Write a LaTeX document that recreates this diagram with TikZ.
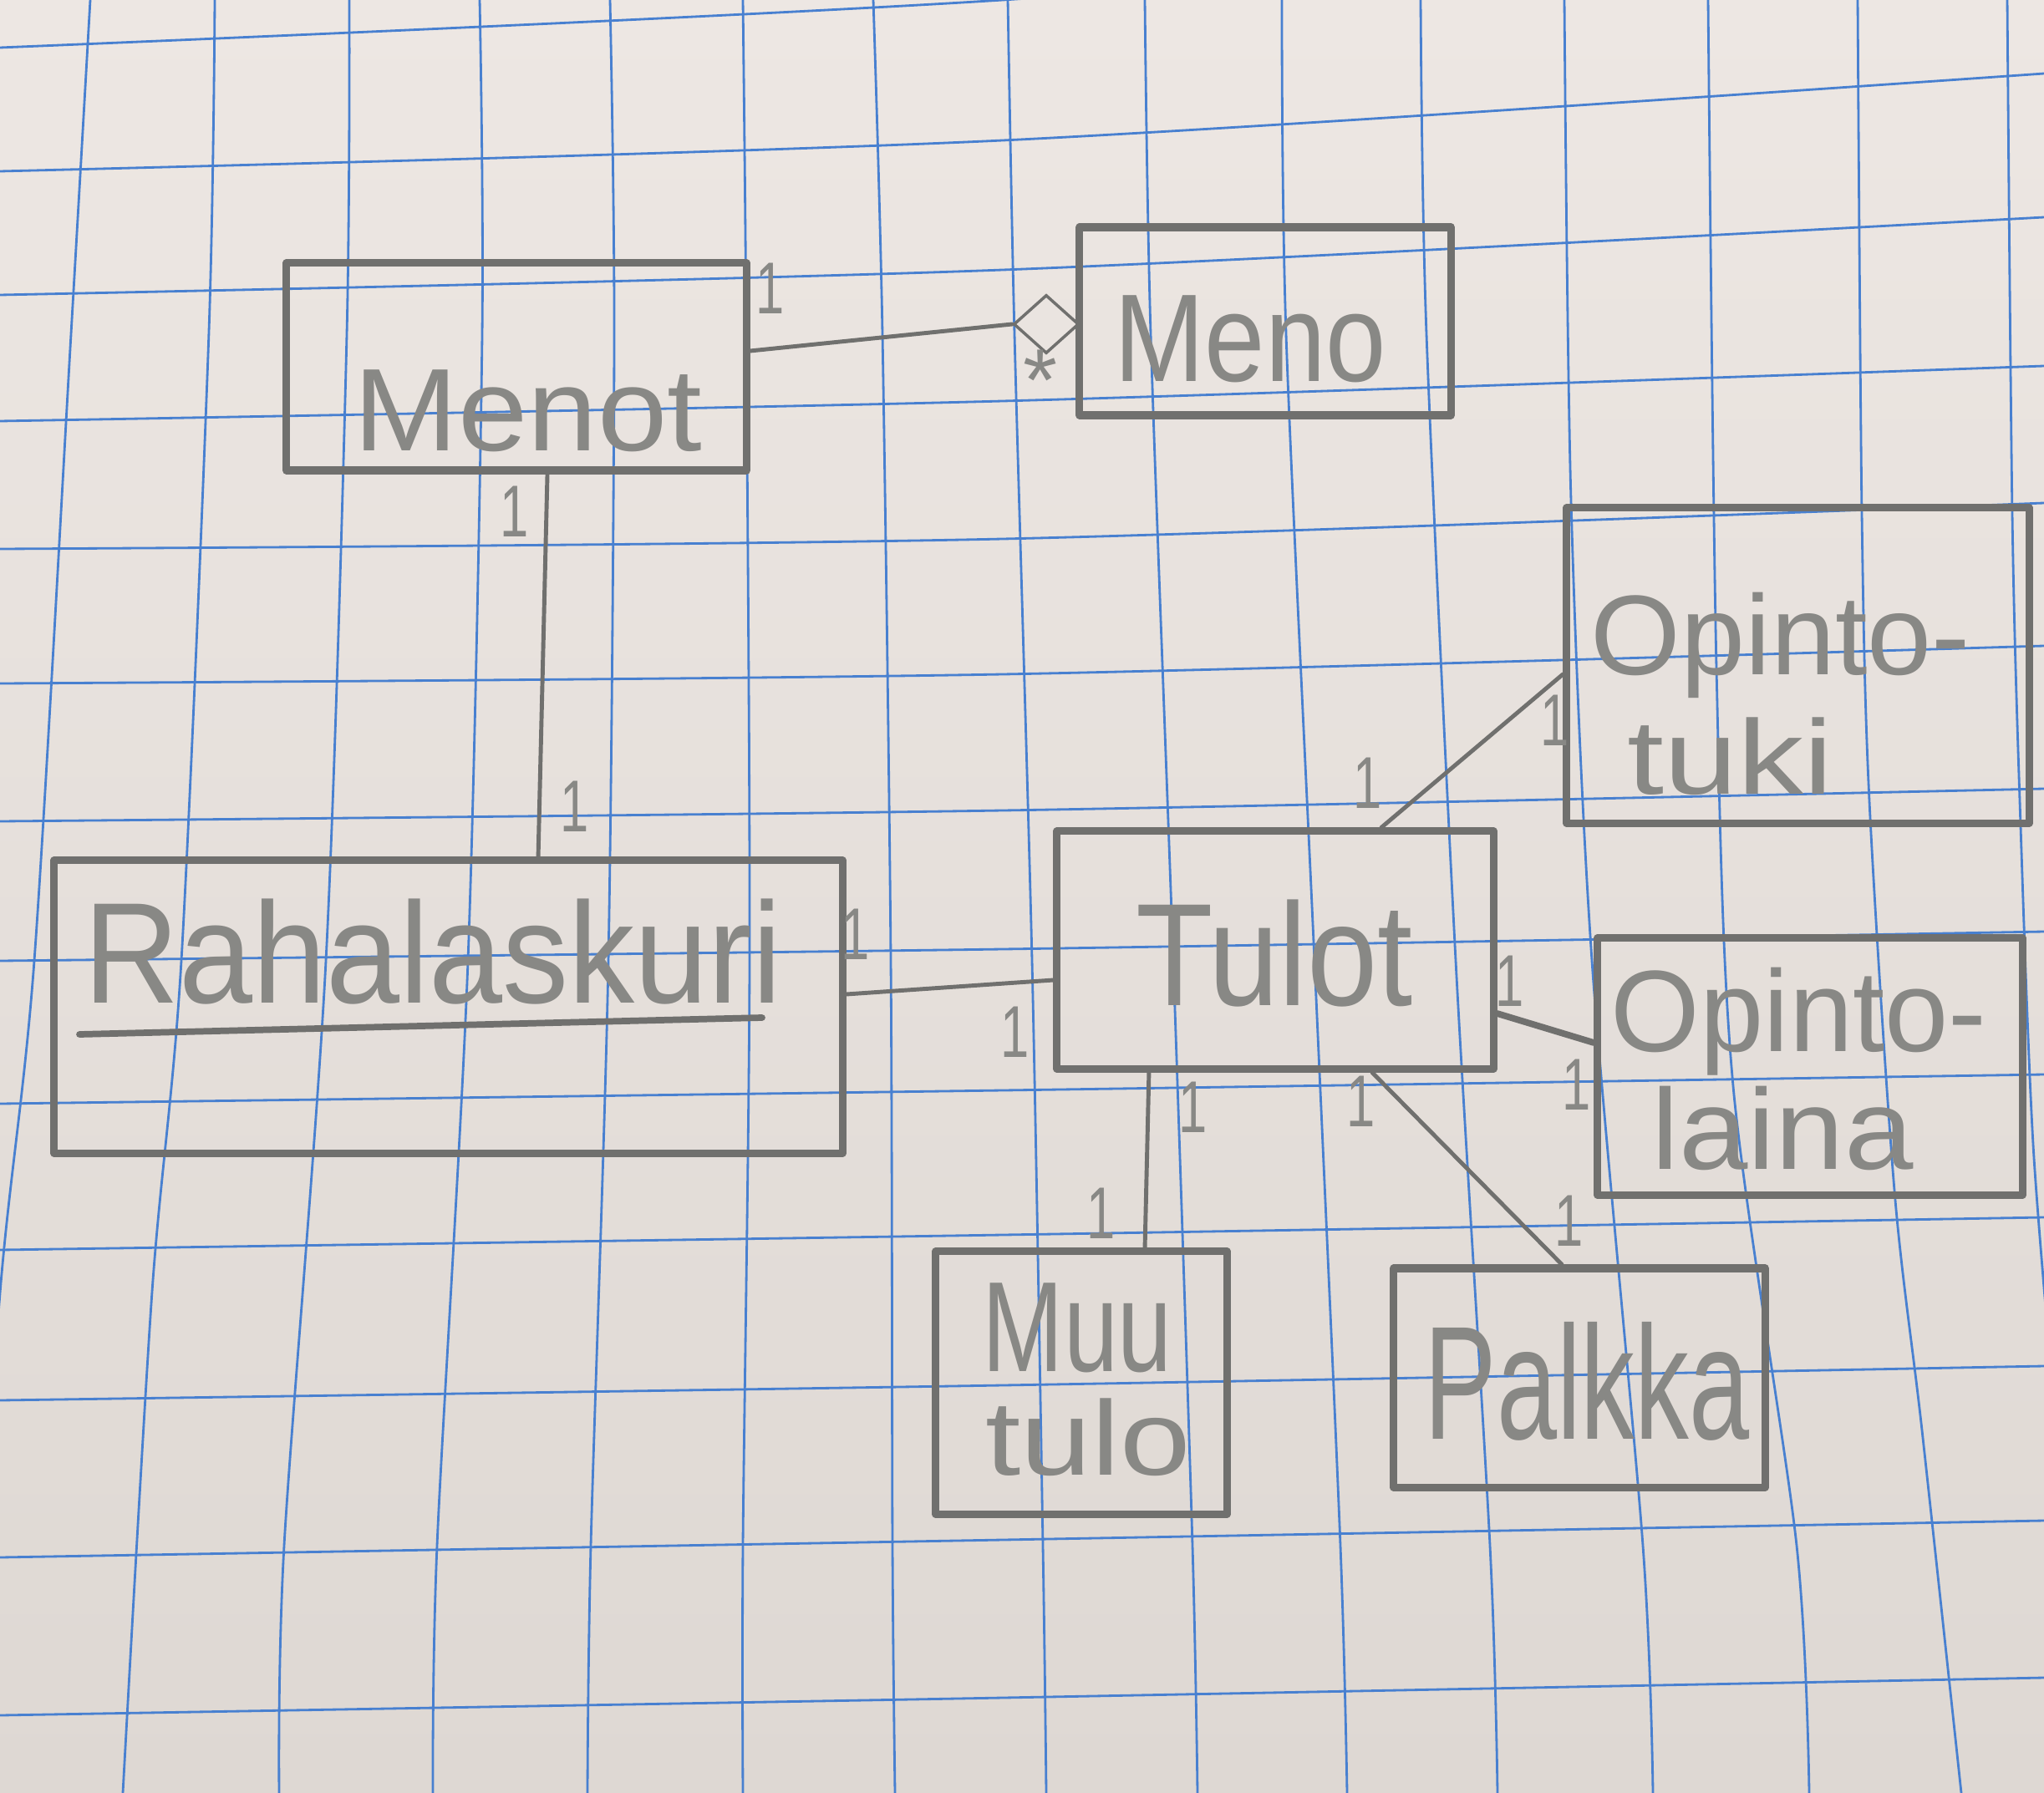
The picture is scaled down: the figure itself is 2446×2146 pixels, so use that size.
\documentclass[tikz,border=0pt]{standalone}
\usepackage{fontspec}
\setmainfont{Liberation Sans}
\usepackage{graphicx}
\usetikzlibrary{shapes.geometric}
\definecolor{paperA}{RGB}{237,231,227}
\definecolor{paperB}{RGB}{222,216,211}
\definecolor{gridblue}{RGB}{72,128,208}
\definecolor{pencil}{RGB}{112,112,110}
\definecolor{pencilText}{RGB}{136,136,133}
\newcommand\hw[3]{\fontsize{#1}{#1}\selectfont\scalebox{#2}[1]{#3}}
\begin{document}
\begin{tikzpicture}[x=0.01cm,y=-0.01cm,
  cls/.style={draw=pencil, line width=2.6pt, rectangle, inner sep=0pt, line join=round},
  assoc/.style={draw=pencil, line width=1.4pt, line cap=round},
  lbl/.style={inner sep=0pt, text=pencilText},
  mult/.style={inner sep=0pt, text=pencilText, font=\fontsize{25}{25}\selectfont},
  gridline/.style={draw=gridblue, line width=0.8pt}]
\useasboundingbox (0,0) rectangle (2446,2146);
\shade[top color=paperA, bottom color=paperB] (0,0) rectangle (2446,2146);
\begin{scope}
\clip (0,0) rectangle (2446,2146);
% vertical grid lines
\draw[gridline] plot[smooth] coordinates {(108,0) (85,400) (41,1150) (0,1548) (-40,2146)};
\draw[gridline] plot[smooth] coordinates {(257,0) (250,397) (217,1150) (182,1546) (147,2146)};
\draw[gridline] plot[smooth] coordinates {(418,0) (415,400) (390,1150) (340,1850) (334,2146)};
\draw[gridline] plot[smooth] coordinates {(574,0) (577,400) (560,1150) (523,1850) (518,2146)};
\draw[gridline] plot[smooth] coordinates {(730,0) (735,400) (728,1150) (707,1850) (703,2146)};
\draw[gridline] plot[smooth] coordinates {(889,0) (893,400) (897,1150) (889,1850) (889,2146)};
\draw[gridline] plot[smooth] coordinates {(1045,0) (1056,400) (1066,1150) (1068,1850) (1071,2146)};
\draw[gridline] plot[smooth] coordinates {(1206,0) (1214,400) (1235,1150) (1248,1850) (1252,2146)};
\draw[gridline] plot[smooth] coordinates {(1370,0) (1377,400) (1404,1150) (1427,1850) (1433,2146)};
\draw[gridline] plot[smooth] coordinates {(1534,0) (1539,400) (1573,1150) (1604,1850) (1612,2146)};
\draw[gridline] plot[smooth] coordinates {(1700,0) (1707,400) (1742,1150) (1783,1850) (1792,2146)};
\draw[gridline] plot[smooth] coordinates {(1872,0) (1880,600) (1905,1150) (1966,1850) (1978,2146)};
\draw[gridline] plot[smooth] coordinates {(2044,0) (2054,800) (2074,1300) (2150,1850) (2165,2146)};
\draw[gridline] plot[smooth] coordinates {(2223,0) (2228,616) (2237,959) (2267,1425) (2300,1712) (2347,2146)};
\draw[gridline] plot[smooth] coordinates {(2402,0) (2408,616) (2417,959) (2433,1370) (2460,1700)};
% horizontal grid lines
\draw[gridline] plot[smooth] coordinates {(0,57) (1200,0) (2446,-100)};
\draw[gridline] plot[smooth] coordinates {(0,205) (1200,168) (2446,88)};
\draw[gridline] plot[smooth] coordinates {(0,353) (1200,323) (2446,260)};
\draw[gridline] plot[smooth] coordinates {(0,504) (1200,480) (2446,438)};
\draw[gridline] plot[smooth] coordinates {(0,657) (1200,645) (2446,602)};
\draw[gridline] plot[smooth] coordinates {(0,818) (1200,807) (2446,773)};
\draw[gridline] plot[smooth] coordinates {(0,983) (1200,970) (2446,944)};
\draw[gridline] plot[smooth] coordinates {(0,1150) (1200,1136) (2446,1115)};
\draw[gridline] plot[smooth] coordinates {(0,1321) (1200,1305) (2446,1286)};
\draw[gridline] plot[smooth] coordinates {(0,1496) (1200,1478) (2446,1457)};
\draw[gridline] plot[smooth] coordinates {(0,1676) (1200,1658) (2446,1635)};
\draw[gridline] plot[smooth] coordinates {(0,1864) (1200,1843) (2446,1820)};
\draw[gridline] plot[smooth] coordinates {(0,2053) (1200,2032) (2446,2008)};
\end{scope}

% class boxes
\node[cls, minimum width=5.50cm, minimum height=2.48cm] (menot)  at (618,439)    {};
\node[cls, minimum width=4.44cm, minimum height=2.25cm] (meno)   at (1514,384.5) {};
\node[cls, minimum width=9.43cm, minimum height=3.50cm] (rahala) at (536.5,1205) {};
\node[cls, minimum width=5.22cm, minimum height=2.84cm] (tulot)  at (1526,1137)  {};
\node[cls, minimum width=5.53cm, minimum height=3.77cm] (tuki)   at (2151.5,796.5) {};
\node[cls, minimum width=5.08cm, minimum height=3.07cm] (laina)  at (2166,1276.5) {};
\node[cls, minimum width=3.48cm, minimum height=3.14cm] (muu)    at (1294,1655)  {};
\node[cls, minimum width=4.44cm, minimum height=2.62cm] (palkka) at (1890,1649)  {};

% underline in Rahalaskuri
\draw[pencil, line width=2.2pt, line cap=round] (95,1238) -- (912,1218);

% class names
\node[lbl, anchor=base] (tmenot) at (632,540) {\hw{40}{1.065}{Menot}};
\node[lbl, anchor=base] (tmeno) at (1496,457) {\hw{42.5}{0.87}{Meno}};
\node[lbl, anchor=base] (trahala) at (518,1200) {\hw{48.9}{0.92}{Rahalaskuri}};
\node[lbl, anchor=base] (ttulot) at (1525,1203) {\hw{49.7}{0.866}{Tulot}};
\node[lbl, anchor=base west] (ttuki1) at (1903,807) {\hw{38.6}{1.02}{Opinto-}};
\node[lbl, anchor=base west] (ttuki2) at (1947,950) {\hw{36}{1.25}{tuki}};
\node[lbl, anchor=base west] (tlaina1) at (1927,1258) {\hw{39.4}{0.99}{Opinto-}};
\node[lbl, anchor=base west] (tlaina2) at (1976,1399) {\hw{39}{1.08}{laina}};
\node[lbl, anchor=base west] (tmuu1) at (1175,1641) {\hw{43.7}{0.76}{Muu}};
\node[lbl, anchor=base west] (tmuu2) at (1179,1765) {\hw{36}{1.2}{tulo}};
\node[lbl, anchor=base west] (tpalkka) at (1704,1722) {\hw{55}{0.67}{Palkka}};

% aggregation diamond
\node[draw=pencil, line width=1pt, diamond, aspect=1.1, inner sep=0pt,
      minimum width=0.78cm, minimum height=0.70cm] (agg) at (1252,388) {};

% connectors
\draw[assoc] ([yshift=0.19cm]menot.east) -- (agg.west);
\draw[assoc] ([xshift=0.37cm]menot.south) -- ([xshift=1.075cm]rahala.north);
\draw[assoc] ([yshift=0.15cm]rahala.east) -- ([yshift=-0.36cm]tulot.west);
\draw[assoc] ([xshift=1.27cm]tulot.north) -- ([yshift=-0.105cm]tuki.west);
\draw[assoc, line width=2.2pt] ([yshift=-0.76cm]tulot.east) -- ([yshift=0.285cm]laina.west);
\draw[assoc] ([xshift=-1.51cm]tulot.south) -- ([xshift=0.76cm]muu.north);
\draw[assoc] ([xshift=1.16cm]tulot.south) -- ([xshift=-0.21cm]palkka.north);

% multiplicities
\node[lbl, anchor=north, font=\fontsize{30}{30}\selectfont] (star) at (1245,418) {*};
\node[mult] (m1)  at (922,345)  {\scalebox{0.7}[1]{1}};
\node[mult] (m2)  at (616,612)  {\scalebox{0.7}[1]{1}};
\node[mult] (m3)  at (688,965)  {\scalebox{0.7}[1]{1}};
\node[mult] (m4)  at (1024,1118) {\scalebox{0.7}[1]{1}};
\node[mult] (m5)  at (1215,1235) {\scalebox{0.7}[1]{1}};
\node[mult] (m6)  at (1637,937) {\scalebox{0.7}[1]{1}};
\node[mult] (m7)  at (1861,862) {\scalebox{0.7}[1]{1}};
\node[mult] (m8)  at (1807,1174) {\scalebox{0.7}[1]{1}};
\node[mult] (m9)  at (1887,1298) {\scalebox{0.7}[1]{1}};
\node[mult] (m10) at (1428,1325) {\scalebox{0.7}[1]{1}};
\node[mult] (m11) at (1629,1318) {\scalebox{0.7}[1]{1}};
\node[mult] (m12) at (1318,1452) {\scalebox{0.7}[1]{1}};
\node[mult] (m13) at (1878,1461) {\scalebox{0.7}[1]{1}};
\end{tikzpicture}
\end{document}
